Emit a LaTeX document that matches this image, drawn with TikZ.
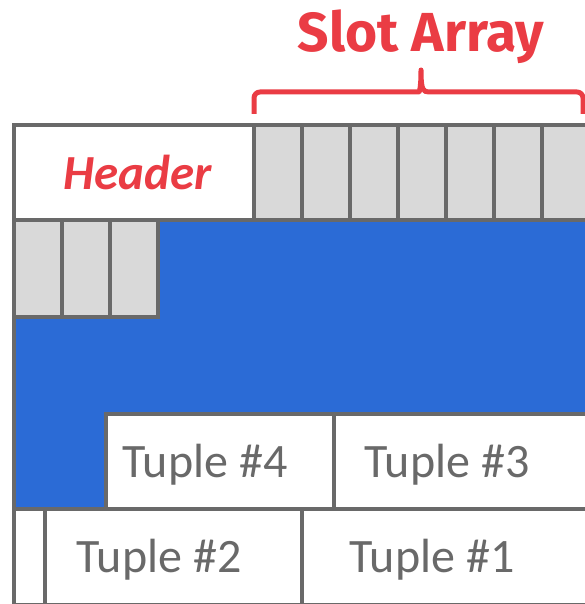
\documentclass[tikz,border=0pt]{standalone}
\usepackage{fontspec}
\setmainfont{Carlito}
\newfontfamily\titlefont{Fira Sans}
\usetikzlibrary{positioning}
\definecolor{cframe}{HTML}{696969}
\definecolor{cslot}{HTML}{D9D9D9}
\definecolor{cblue}{HTML}{2B6BD6}
\definecolor{cred}{HTML}{EA3C44}
\tikzset{
  every picture/.style={line width=4.8pt},
  cell/.style={draw=cframe, fill=#1, anchor=north west, inner sep=0pt, outer sep=0pt},
  cell/.default=white,
  slot/.style={cell=cslot, minimum width=48pt, minimum height=95pt},
  tuplebox/.style={cell=white, minimum height=96pt},
  tuplelabel/.style={font=\fontsize{48}{52}\selectfont, text=cframe, anchor=base},
  title/.style={font=\titlefont\bfseries\fontsize{55}{60}\selectfont, text=cred, anchor=base},
  bracket/.style={draw=cred, line width=5pt, line join=round, rounded corners=6pt},
}

\begin{document}
\begin{tikzpicture}[x=1pt, y=-1pt]
  \useasboundingbox (0,0) rectangle (585,604);
  \clip (0,0) rectangle (585,604);
  % the page, free space in blue
  \node[cell=cblue, minimum width=586pt, minimum height=480pt] (page) at (14,125) {};
  \node[cell, minimum width=240pt, minimum height=95pt] (header) at (14,125) {};
  \node[font=\bfseries\itshape\fontsize{49}{52}\selectfont, text=cred, anchor=base] (headertext) at (138,189) {Header};
  \foreach \i in {0,...,6}
    \node[slot] (s\i) at (254+48*\i,125) {};
  \foreach \i in {0,1,2}
    \node[slot, minimum height=97pt] (r\i) at (14+48*\i,220) {};
  % tuples
  \node[tuplebox, minimum width=228pt, minimum height=95pt] (t4) at (106,414) {};
  \node[tuplebox, minimum width=256pt, minimum height=95pt] (t3) at (334,414) {};
  \node[tuplebox, minimum width=31pt] (gap) at (14,509) {};
  \node[tuplebox, minimum width=257pt] (t2) at (45,509) {};
  \node[tuplebox, minimum width=288pt] (t1) at (302,509) {};
  \node[tuplelabel] (l4) at (205,477) {Tuple \#4};
  \node[tuplelabel] (l3) at (447,477) {Tuple \#3};
  \node[tuplelabel] (l2) at (159,572) {Tuple \#2};
  \node[tuplelabel] (l1) at (432,572) {Tuple \#1};
  % slot array brace
  \node[title] (slottitle) at (421,52) {Slot Array};
  \draw[bracket] (254,114) -- (254,92) -- (413,92) [sharp corners]
    .. controls (419,92) and (421,90) .. (421,70)
    .. controls (421,90) and (423,92) .. (429,92) [rounded corners=6pt]
    -- (583,92) -- (583,114);
\end{tikzpicture}
\end{document}
